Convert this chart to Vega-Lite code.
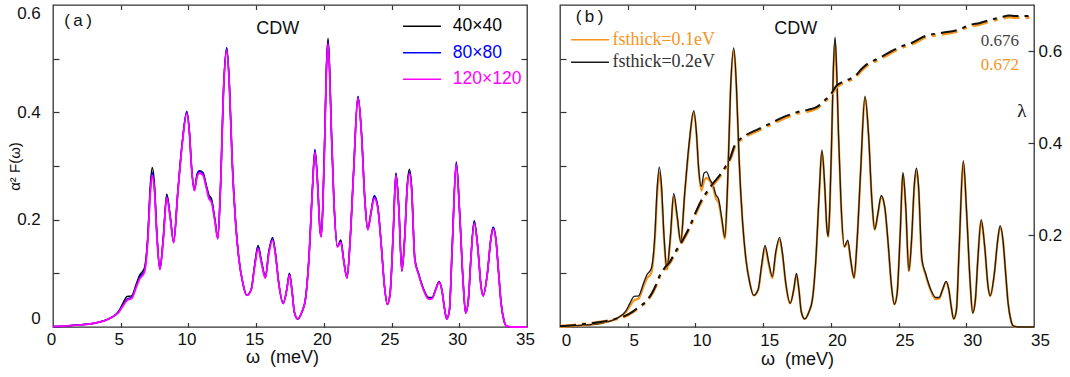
{
"$schema": "https://vega.github.io/schema/vega-lite/v6.json",
"padding": {"left": 6, "top": 3, "right": 0, "bottom": 0},
"spacing": 17,
"resolve": {"scale": {"color": "independent"}, "legend": {"color": "independent"}},
"config": {
  "view": {"stroke": "#333", "strokeWidth": 1.3},
  "font": "Liberation Sans",
  "axis": {"grid": false, "domain": false, "tickColor": "#333", "tickWidth": 1.2, "labelFont": "Liberation Sans", "labelFontSize": 17, "labelColor": "#111", "titleFont": "Liberation Sans", "titleFontWeight": "normal", "titleColor": "#111", "labelFlush": false, "labelOverlap": false}
},
"datasets": {
"a2f": [
{"w":0,"a":0.001,"b":0.001,"c":0.001},{"w":1,"a":0.002,"b":0.002,"c":0.002},{"w":2.04,"a":0.004,"b":0.004,"c":0.004},{"w":3.05,"a":0.007,"b":0.007,"c":0.007},{"w":3.82,"a":0.012,"b":0.012,"c":0.012},{"w":4.33,"a":0.018,"b":0.018,"c":0.018},{"w":4.84,"a":0.029,"b":0.028,"c":0.027},{"w":5.14,"a":0.043,"b":0.04,"c":0.038},{"w":5.47,"a":0.057,"b":0.052,"c":0.05},{"w":5.8,"a":0.058,"b":0.055,"c":0.053},{"w":6.16,"a":0.081,"b":0.077,"c":0.075},{"w":6.41,"a":0.097,"b":0.093,"c":0.09},{"w":6.74,"a":0.109,"b":0.104,"c":0.101},{"w":7.0,"a":0.17,"b":0.165,"c":0.161},{"w":7.18,"a":0.262,"b":0.252,"c":0.248},{"w":7.33,"a":0.297,"b":0.288,"c":0.283},{"w":7.48,"a":0.27,"b":0.262,"c":0.258},{"w":7.69,"a":0.166,"b":0.163,"c":0.161},{"w":7.89,"a":0.109,"b":0.108,"c":0.107},{"w":8.14,"a":0.166,"b":0.163,"c":0.161},{"w":8.4,"a":0.248,"b":0.244,"c":0.241},{"w":8.65,"a":0.208,"b":0.206,"c":0.204},{"w":8.91,"a":0.159,"b":0.158,"c":0.157},{"w":9.21,"a":0.25,"b":0.25,"c":0.248},{"w":9.54,"a":0.342,"b":0.343,"c":0.34},{"w":9.88,"a":0.4,"b":0.402,"c":0.398},{"w":10.08,"a":0.36,"b":0.361,"c":0.359},{"w":10.23,"a":0.298,"b":0.298,"c":0.297},{"w":10.44,"a":0.257,"b":0.255,"c":0.254},{"w":10.64,"a":0.285,"b":0.283,"c":0.28},{"w":10.82,"a":0.291,"b":0.29,"c":0.287},{"w":11.07,"a":0.288,"b":0.286,"c":0.283},{"w":11.33,"a":0.263,"b":0.261,"c":0.258},{"w":11.5,"a":0.247,"b":0.243,"c":0.24},{"w":11.71,"a":0.238,"b":0.235,"c":0.232},{"w":11.96,"a":0.2,"b":0.198,"c":0.196},{"w":12.17,"a":0.167,"b":0.165,"c":0.164},{"w":12.37,"a":0.262,"b":0.261,"c":0.26},{"w":12.6,"a":0.447,"b":0.448,"c":0.445},{"w":12.83,"a":0.519,"b":0.521,"c":0.516},{"w":13.03,"a":0.447,"b":0.448,"c":0.445},{"w":13.23,"a":0.31,"b":0.31,"c":0.309},{"w":13.49,"a":0.193,"b":0.193,"c":0.192},{"w":13.74,"a":0.124,"b":0.124,"c":0.124},{"w":14.0,"a":0.084,"b":0.084,"c":0.084},{"w":14.3,"a":0.059,"b":0.059,"c":0.059},{"w":14.63,"a":0.07,"b":0.069,"c":0.069},{"w":14.89,"a":0.116,"b":0.114,"c":0.112},{"w":15.14,"a":0.152,"b":0.149,"c":0.146},{"w":15.4,"a":0.122,"b":0.12,"c":0.118},{"w":15.68,"a":0.094,"b":0.092,"c":0.091},{"w":15.93,"a":0.14,"b":0.138,"c":0.136},{"w":16.21,"a":0.167,"b":0.165,"c":0.162},{"w":16.42,"a":0.139,"b":0.137,"c":0.136},{"w":16.67,"a":0.082,"b":0.081,"c":0.081},{"w":17.0,"a":0.044,"b":0.044,"c":0.044},{"w":17.26,"a":0.07,"b":0.069,"c":0.069},{"w":17.46,"a":0.1,"b":0.099,"c":0.097},{"w":17.64,"a":0.07,"b":0.069,"c":0.069},{"w":17.82,"a":0.028,"b":0.028,"c":0.028},{"w":18.07,"a":0.015,"b":0.015,"c":0.015},{"w":18.38,"a":0.028,"b":0.028,"c":0.028},{"w":18.63,"a":0.05,"b":0.05,"c":0.05},{"w":18.89,"a":0.125,"b":0.125,"c":0.124},{"w":19.14,"a":0.25,"b":0.25,"c":0.248},{"w":19.34,"a":0.329,"b":0.331,"c":0.326},{"w":19.55,"a":0.262,"b":0.262,"c":0.26},{"w":19.7,"a":0.186,"b":0.186,"c":0.185},{"w":19.8,"a":0.169,"b":0.169,"c":0.168},{"w":19.92,"a":0.222,"b":0.221,"c":0.22},{"w":20.06,"a":0.35,"b":0.348,"c":0.346},{"w":20.18,"a":0.478,"b":0.474,"c":0.47},{"w":20.31,"a":0.538,"b":0.533,"c":0.528},{"w":20.43,"a":0.478,"b":0.474,"c":0.47},{"w":20.56,"a":0.363,"b":0.361,"c":0.36},{"w":20.74,"a":0.237,"b":0.236,"c":0.235},{"w":21.0,"a":0.15,"b":0.15,"c":0.149},{"w":21.25,"a":0.162,"b":0.16,"c":0.158},{"w":21.46,"a":0.126,"b":0.125,"c":0.124},{"w":21.71,"a":0.092,"b":0.092,"c":0.091},{"w":21.94,"a":0.162,"b":0.162,"c":0.161},{"w":22.19,"a":0.286,"b":0.287,"c":0.285},{"w":22.52,"a":0.429,"b":0.43,"c":0.426},{"w":22.78,"a":0.36,"b":0.361,"c":0.359},{"w":23.03,"a":0.236,"b":0.236,"c":0.235},{"w":23.24,"a":0.182,"b":0.182,"c":0.181},{"w":23.47,"a":0.211,"b":0.212,"c":0.21},{"w":23.72,"a":0.243,"b":0.245,"c":0.24},{"w":23.98,"a":0.224,"b":0.225,"c":0.222},{"w":24.23,"a":0.156,"b":0.156,"c":0.155},{"w":24.48,"a":0.075,"b":0.075,"c":0.075},{"w":24.69,"a":0.042,"b":0.042,"c":0.042},{"w":24.89,"a":0.062,"b":0.062,"c":0.062},{"w":25.12,"a":0.174,"b":0.175,"c":0.173},{"w":25.32,"a":0.286,"b":0.287,"c":0.283},{"w":25.53,"a":0.224,"b":0.225,"c":0.223},{"w":25.76,"a":0.105,"b":0.105,"c":0.104},{"w":25.96,"a":0.163,"b":0.162,"c":0.161},{"w":26.16,"a":0.265,"b":0.262,"c":0.26},{"w":26.32,"a":0.294,"b":0.289,"c":0.286},{"w":26.47,"a":0.265,"b":0.262,"c":0.26},{"w":26.72,"a":0.127,"b":0.125,"c":0.124},{"w":26.98,"a":0.101,"b":0.1,"c":0.099},{"w":27.36,"a":0.071,"b":0.07,"c":0.069},{"w":27.74,"a":0.055,"b":0.053,"c":0.052},{"w":28.0,"a":0.055,"b":0.054,"c":0.053},{"w":28.25,"a":0.07,"b":0.069,"c":0.069},{"w":28.51,"a":0.085,"b":0.084,"c":0.083},{"w":28.71,"a":0.07,"b":0.069,"c":0.069},{"w":28.89,"a":0.038,"b":0.038,"c":0.038},{"w":29.07,"a":0.015,"b":0.015,"c":0.015},{"w":29.27,"a":0.031,"b":0.031,"c":0.031},{"w":29.47,"a":0.144,"b":0.145,"c":0.143},{"w":29.78,"a":0.305,"b":0.308,"c":0.302},{"w":30.03,"a":0.211,"b":0.212,"c":0.21},{"w":30.29,"a":0.081,"b":0.081,"c":0.081},{"w":30.47,"a":0.026,"b":0.026,"c":0.026},{"w":30.67,"a":0.05,"b":0.05,"c":0.05},{"w":30.85,"a":0.125,"b":0.125,"c":0.124},{"w":31.1,"a":0.198,"b":0.197,"c":0.193},{"w":31.36,"a":0.15,"b":0.15,"c":0.149},{"w":31.61,"a":0.075,"b":0.075,"c":0.075},{"w":31.76,"a":0.058,"b":0.058,"c":0.058},{"w":32.07,"a":0.099,"b":0.099,"c":0.099},{"w":32.32,"a":0.162,"b":0.162,"c":0.161},{"w":32.5,"a":0.186,"b":0.186,"c":0.183},{"w":32.71,"a":0.162,"b":0.162,"c":0.161},{"w":32.91,"a":0.099,"b":0.099,"c":0.099},{"w":33.09,"a":0.044,"b":0.044,"c":0.044},{"w":33.29,"a":0.013,"b":0.013,"c":0.013},{"w":33.47,"a":0.002,"b":0.002,"c":0.002},{"w":33.85,"a":0,"b":0,"c":0},{"w":35,"a":0,"b":0,"c":0}
],
"a2fb": [
{"w":0,"k":0.001,"o":0.001},{"w":1,"k":0.002,"o":0.002},{"w":2.04,"k":0.004,"o":0.004},{"w":3.05,"k":0.007,"o":0.007},{"w":3.82,"k":0.012,"o":0.012},{"w":4.33,"k":0.018,"o":0.018},{"w":4.84,"k":0.029,"o":0.027},{"w":5.14,"k":0.043,"o":0.038},{"w":5.47,"k":0.057,"o":0.05},{"w":5.8,"k":0.058,"o":0.053},{"w":6.16,"k":0.081,"o":0.075},{"w":6.41,"k":0.097,"o":0.09},{"w":6.74,"k":0.109,"o":0.101},{"w":7.0,"k":0.17,"o":0.161},{"w":7.18,"k":0.262,"o":0.248},{"w":7.33,"k":0.298,"o":0.288},{"w":7.48,"k":0.27,"o":0.258},{"w":7.69,"k":0.166,"o":0.161},{"w":7.89,"k":0.109,"o":0.107},{"w":8.14,"k":0.166,"o":0.161},{"w":8.4,"k":0.249,"o":0.243},{"w":8.65,"k":0.208,"o":0.204},{"w":8.91,"k":0.159,"o":0.157},{"w":9.21,"k":0.25,"o":0.248},{"w":9.54,"k":0.344,"o":0.34},{"w":9.88,"k":0.403,"o":0.4},{"w":10.08,"k":0.36,"o":0.359},{"w":10.23,"k":0.298,"o":0.297},{"w":10.44,"k":0.262,"o":0.254},{"w":10.64,"k":0.287,"o":0.272},{"w":10.82,"k":0.289,"o":0.278},{"w":11.07,"k":0.275,"o":0.272},{"w":11.33,"k":0.263,"o":0.258},{"w":11.5,"k":0.247,"o":0.24},{"w":11.71,"k":0.238,"o":0.232},{"w":11.96,"k":0.2,"o":0.196},{"w":12.17,"k":0.167,"o":0.164},{"w":12.37,"k":0.262,"o":0.26},{"w":12.6,"k":0.447,"o":0.445},{"w":12.83,"k":0.52,"o":0.516},{"w":13.03,"k":0.447,"o":0.445},{"w":13.23,"k":0.31,"o":0.309},{"w":13.49,"k":0.193,"o":0.192},{"w":13.74,"k":0.124,"o":0.124},{"w":14.0,"k":0.084,"o":0.084},{"w":14.3,"k":0.059,"o":0.059},{"w":14.63,"k":0.07,"o":0.069},{"w":14.89,"k":0.116,"o":0.112},{"w":15.14,"k":0.152,"o":0.148},{"w":15.4,"k":0.122,"o":0.118},{"w":15.68,"k":0.094,"o":0.091},{"w":15.93,"k":0.14,"o":0.136},{"w":16.21,"k":0.167,"o":0.163},{"w":16.42,"k":0.139,"o":0.136},{"w":16.67,"k":0.082,"o":0.081},{"w":17.0,"k":0.044,"o":0.044},{"w":17.26,"k":0.07,"o":0.069},{"w":17.46,"k":0.1,"o":0.097},{"w":17.64,"k":0.07,"o":0.069},{"w":17.82,"k":0.028,"o":0.028},{"w":18.07,"k":0.015,"o":0.015},{"w":18.38,"k":0.028,"o":0.028},{"w":18.63,"k":0.05,"o":0.05},{"w":18.89,"k":0.125,"o":0.124},{"w":19.14,"k":0.25,"o":0.248},{"w":19.34,"k":0.33,"o":0.326},{"w":19.55,"k":0.262,"o":0.26},{"w":19.7,"k":0.186,"o":0.185},{"w":19.8,"k":0.169,"o":0.168},{"w":19.92,"k":0.222,"o":0.22},{"w":20.06,"k":0.35,"o":0.346},{"w":20.18,"k":0.478,"o":0.472},{"w":20.31,"k":0.54,"o":0.534},{"w":20.43,"k":0.478,"o":0.472},{"w":20.56,"k":0.363,"o":0.36},{"w":20.74,"k":0.237,"o":0.235},{"w":21.0,"k":0.15,"o":0.149},{"w":21.25,"k":0.162,"o":0.158},{"w":21.46,"k":0.126,"o":0.124},{"w":21.71,"k":0.092,"o":0.091},{"w":21.94,"k":0.162,"o":0.161},{"w":22.19,"k":0.286,"o":0.285},{"w":22.52,"k":0.43,"o":0.427},{"w":22.78,"k":0.36,"o":0.359},{"w":23.03,"k":0.236,"o":0.235},{"w":23.24,"k":0.182,"o":0.181},{"w":23.47,"k":0.211,"o":0.21},{"w":23.72,"k":0.245,"o":0.242},{"w":23.98,"k":0.224,"o":0.222},{"w":24.23,"k":0.156,"o":0.155},{"w":24.48,"k":0.075,"o":0.075},{"w":24.69,"k":0.042,"o":0.042},{"w":24.89,"k":0.062,"o":0.062},{"w":25.12,"k":0.174,"o":0.173},{"w":25.32,"k":0.288,"o":0.285},{"w":25.53,"k":0.224,"o":0.223},{"w":25.76,"k":0.105,"o":0.104},{"w":25.96,"k":0.163,"o":0.161},{"w":26.16,"k":0.265,"o":0.26},{"w":26.32,"k":0.296,"o":0.292},{"w":26.47,"k":0.265,"o":0.26},{"w":26.72,"k":0.127,"o":0.124},{"w":26.98,"k":0.101,"o":0.099},{"w":27.36,"k":0.071,"o":0.069},{"w":27.74,"k":0.055,"o":0.052},{"w":28.0,"k":0.055,"o":0.053},{"w":28.25,"k":0.07,"o":0.069},{"w":28.51,"k":0.085,"o":0.083},{"w":28.71,"k":0.07,"o":0.069},{"w":28.89,"k":0.038,"o":0.038},{"w":29.07,"k":0.015,"o":0.015},{"w":29.27,"k":0.031,"o":0.031},{"w":29.47,"k":0.144,"o":0.143},{"w":29.78,"k":0.31,"o":0.306},{"w":30.03,"k":0.211,"o":0.21},{"w":30.29,"k":0.081,"o":0.081},{"w":30.47,"k":0.026,"o":0.026},{"w":30.67,"k":0.05,"o":0.05},{"w":30.85,"k":0.125,"o":0.124},{"w":31.1,"k":0.2,"o":0.197},{"w":31.36,"k":0.15,"o":0.149},{"w":31.61,"k":0.075,"o":0.075},{"w":31.76,"k":0.058,"o":0.058},{"w":32.07,"k":0.099,"o":0.099},{"w":32.32,"k":0.162,"o":0.161},{"w":32.5,"k":0.189,"o":0.186},{"w":32.71,"k":0.162,"o":0.161},{"w":32.91,"k":0.099,"o":0.099},{"w":33.09,"k":0.044,"o":0.044},{"w":33.29,"k":0.013,"o":0.013},{"w":33.47,"k":0.002,"o":0.002},{"w":33.85,"k":0,"o":0},{"w":35,"k":0,"o":0}
],
"lam": [
{"w":0,"lk":0.002,"lo":0.002},{"w":1,"lk":0.004,"lo":0.004},{"w":2,"lk":0.007,"lo":0.007},{"w":3,"lk":0.011,"lo":0.011},{"w":4,"lk":0.017,"lo":0.016},{"w":4.6,"lk":0.022,"lo":0.021},{"w":5.0,"lk":0.027,"lo":0.026},{"w":5.4,"lk":0.034,"lo":0.033},{"w":5.8,"lk":0.043,"lo":0.042},{"w":6.4,"lk":0.057,"lo":0.056},{"w":6.8,"lk":0.074,"lo":0.073},{"w":7.1,"lk":0.092,"lo":0.09},{"w":7.4,"lk":0.114,"lo":0.112},{"w":7.8,"lk":0.131,"lo":0.129},{"w":8.1,"lk":0.141,"lo":0.139},{"w":8.5,"lk":0.162,"lo":0.16},{"w":9.0,"lk":0.186,"lo":0.184},{"w":9.5,"lk":0.213,"lo":0.211},{"w":10.0,"lk":0.248,"lo":0.245},{"w":10.4,"lk":0.273,"lo":0.27},{"w":10.8,"lk":0.292,"lo":0.289},{"w":11.3,"lk":0.312,"lo":0.309},{"w":11.8,"lk":0.33,"lo":0.327},{"w":12.1,"lk":0.343,"lo":0.34},{"w":12.6,"lk":0.37,"lo":0.367},{"w":12.9,"lk":0.395,"lo":0.392},{"w":13.2,"lk":0.406,"lo":0.403},{"w":13.6,"lk":0.415,"lo":0.412},{"w":14.4,"lk":0.427,"lo":0.424},{"w":15.0,"lk":0.435,"lo":0.432},{"w":15.7,"lk":0.445,"lo":0.442},{"w":16.4,"lk":0.455,"lo":0.452},{"w":17.0,"lk":0.462,"lo":0.459},{"w":17.6,"lk":0.468,"lo":0.465},{"w":18.3,"lk":0.472,"lo":0.469},{"w":19.0,"lk":0.479,"lo":0.476},{"w":19.5,"lk":0.492,"lo":0.489},{"w":20.0,"lk":0.506,"lo":0.503},{"w":20.4,"lk":0.524,"lo":0.521},{"w":20.8,"lk":0.532,"lo":0.529},{"w":21.3,"lk":0.538,"lo":0.535},{"w":21.8,"lk":0.546,"lo":0.543},{"w":22.3,"lk":0.562,"lo":0.559},{"w":22.7,"lk":0.572,"lo":0.569},{"w":23.3,"lk":0.581,"lo":0.578},{"w":23.9,"lk":0.59,"lo":0.587},{"w":24.7,"lk":0.603,"lo":0.6},{"w":25.3,"lk":0.611,"lo":0.608},{"w":26.0,"lk":0.618,"lo":0.615},{"w":27.0,"lk":0.633,"lo":0.63},{"w":28.1,"lk":0.639,"lo":0.636},{"w":29.5,"lk":0.647,"lo":0.644},{"w":30.2,"lk":0.656,"lo":0.653},{"w":31.0,"lk":0.661,"lo":0.658},{"w":31.8,"lk":0.668,"lo":0.665},{"w":32.5,"lk":0.673,"lo":0.67},{"w":33.2,"lk":0.677,"lo":0.674},{"w":33.6,"lk":0.676,"lo":0.673},{"w":35,"lk":0.676,"lo":0.673}
]
},
"hconcat": [
{
  "width": 474, "height": 322,
  "data": {"name": "a2f"},
  "layer": [
    {"mark": {"type": "line", "interpolate": "monotone", "strokeWidth": 1.5},
     "encoding": {
       "x": {"field": "w", "type": "quantitative", "scale": {"domain": [0, 35], "nice": false, "zero": false},
             "axis": {"orient": "bottom", "values": [0,5,10,15,20,25,30,35], "ticks": false, "labelPadding": 4, "labelBaseline": "top", "labelOffset": -2,
                      "title": "ω\u00a0\u00a0(meV)", "titleFontSize": 18, "titleX": 229, "titleY": 35, "titleBaseline": "alphabetic", "titleAlign": "center"}},
       "y": {"field": "a", "type": "quantitative", "scale": {"domain": [0, 0.6], "nice": false},
             "axis": {"orient": "left", "values": [0, 0.2, 0.4, 0.6], "format": ".1~f", "ticks": false, "labelPadding": 12.7, "labelFlush": true,
                      "title": "α² F(ω)", "titleFontSize": 15, "titleAngle": -90, "titleX": -39, "titleY": 161, "titleBaseline": "middle", "titleAlign": "center"}},
       "color": {"datum": "40×40", "type": "nominal",
                 "scale": {"domain": ["40×40", "80×80", "120×120"], "range": ["#000000", "#0000ff", "#ff00ff"]},
                 "legend": {"orient": "none", "legendX": 355, "legendY": 7.2, "title": null, "symbolType": "M-1.46,0H1.46", "symbolSize": 676, "symbolStrokeWidth": 1.5,
                            "labelFont": "Liberation Sans", "labelFontSize": 17.5, "labelOffset": 16.8, "rowPadding": 3.5, "padding": 0,
                            "labelColor": {"expr": "datum.label == '40×40' ? '#000000' : datum.label == '80×80' ? '#0000ff' : '#ff00ff'"}}}
     }},
    {"mark": {"type": "line", "interpolate": "monotone", "strokeWidth": 1.5},
     "encoding": {
       "x": {"field": "w", "type": "quantitative", "scale": {"domain": [0, 35], "nice": false, "zero": false},
             "axis": {"orient": "bottom", "values": [5,10,15,20,25,30], "labels": false, "tickSize": -4.5, "title": null}},
       "y": {"field": "b", "type": "quantitative", "scale": {"domain": [0, 0.6], "nice": false},
             "axis": {"orient": "left", "values": [0.1,0.2,0.3,0.4,0.5], "labels": false, "tickSize": -6, "title": null}},
       "color": {"datum": "80×80", "type": "nominal"}
     }},
    {"mark": {"type": "line", "interpolate": "monotone", "strokeWidth": 1.8},
     "encoding": {
       "x": {"field": "w", "type": "quantitative", "scale": {"domain": [0, 35], "nice": false, "zero": false},
             "axis": {"orient": "top", "values": [5,10,15,20,25,30], "labels": false, "tickSize": -4.5, "title": null}},
       "y": {"field": "c", "type": "quantitative", "scale": {"domain": [0, 0.6], "nice": false},
             "axis": {"orient": "right", "values": [0.1,0.2,0.3,0.4,0.5], "labels": false, "tickSize": -6, "title": null}},
       "color": {"datum": "120×120", "type": "nominal"}
     }},
    {"data": {"values": [{}]},
     "mark": {"type": "text", "align": "left", "baseline": "middle", "fontSize": 17, "font": "Liberation Sans", "color": "#111"},
     "encoding": {
       "x": {"datum": 0.83, "type": "quantitative", "axis": null},
       "y": {"datum": 0.57, "type": "quantitative", "axis": null},
       "text": {"value": "(\u2009a\u2009)"}
     }},
    {"data": {"values": [{}]},
     "mark": {"type": "text", "align": "center", "baseline": "middle", "fontSize": 18, "font": "Liberation Sans", "color": "#111"},
     "encoding": {
       "x": {"datum": 16.6, "type": "quantitative", "axis": null},
       "y": {"datum": 0.556, "type": "quantitative", "axis": null},
       "text": {"value": "CDW"}
     }}
  ],
  "resolve": {"axis": {"x": "independent", "y": "independent"}}
},
{
  "width": 474, "height": 322,
  "layer": [
    {
      "data": {"name": "a2fb"},
      "layer": [
        {"mark": {"type": "line", "interpolate": "monotone", "strokeWidth": 2.2},
         "encoding": {
           "x": {"field": "w", "type": "quantitative", "scale": {"domain": [0, 35], "nice": false, "zero": false},
                 "axis": {"orient": "bottom", "values": [0,5,10,15,20,25,30,35], "ticks": false, "labelPadding": 5, "labelBaseline": "top", "labelOffset": 6,
                          "title": "ω\u00a0\u00a0(meV)", "titleFontSize": 18, "titleX": 237, "titleY": 37, "titleBaseline": "alphabetic", "titleAlign": "center"}},
           "y": {"field": "o", "type": "quantitative", "scale": {"domain": [0, 0.6], "nice": false},
                 "axis": {"orient": "left", "values": [0.1,0.2,0.3,0.4,0.5], "labels": false, "tickSize": -6, "title": null}},
           "color": {"datum": "fsthick=0.1eV", "type": "nominal",
                     "scale": {"domain": ["fsthick=0.1eV", "fsthick=0.2eV"], "range": ["#f7941d", "#1a1a1a"]},
                     "legend": {"orient": "none", "legendX": 18, "legendY": 22.8, "title": null, "symbolType": "M-1.74,0H1.74", "symbolSize": 475, "symbolStrokeWidth": 1.5,
                                "labelFont": "Liberation Serif", "labelFontSize": 18, "labelOffset": 10.4, "rowPadding": 1.5, "padding": 0,
                                "labelColor": {"expr": "datum.label == 'fsthick=0.1eV' ? '#f7941d' : '#333333'"}}}
         }},
        {"mark": {"type": "line", "interpolate": "monotone", "strokeWidth": 1.3},
         "encoding": {
           "x": {"field": "w", "type": "quantitative", "scale": {"domain": [0, 35], "nice": false, "zero": false},
                 "axis": {"orient": "bottom", "values": [5,10,15,20,25,30], "labels": false, "tickSize": -4.5, "title": null}},
           "y": {"field": "k", "type": "quantitative", "scale": {"domain": [0, 0.6], "nice": false}, "axis": null},
           "color": {"datum": "fsthick=0.2eV", "type": "nominal"}
         }},
        {"data": {"values": [{}]},
         "mark": {"type": "text", "align": "left", "baseline": "middle", "fontSize": 17, "font": "Liberation Sans", "color": "#111"},
         "encoding": {
           "x": {"datum": 1.16, "type": "quantitative", "axis": null},
           "y": {"datum": 0.577, "type": "quantitative", "axis": null},
           "text": {"value": "(\u2009b\u2009)"}
         }},
        {"data": {"values": [{}]},
         "mark": {"type": "text", "align": "center", "baseline": "middle", "fontSize": 18, "font": "Liberation Sans", "color": "#111"},
         "encoding": {
           "x": {"datum": 17.4, "type": "quantitative", "axis": null},
           "y": {"datum": 0.556, "type": "quantitative", "axis": null},
           "text": {"value": "CDW"}
         }}
      ],
      "resolve": {"axis": {"x": "independent", "y": "independent"}}
    },
    {
      "data": {"name": "lam"},
      "layer": [
        {"mark": {"type": "line", "interpolate": "monotone", "strokeWidth": 3, "color": "#f7941d", "strokeDash": [16, 6, 4, 6]},
         "encoding": {
           "x": {"field": "w", "type": "quantitative", "scale": {"domain": [0, 35], "nice": false, "zero": false},
                 "axis": {"orient": "top", "values": [5,10,15,20,25,30], "labels": false, "tickSize": -4.5, "title": null}},
           "y": {"field": "lo", "type": "quantitative", "scale": {"domain": [0, 0.7], "nice": false},
                 "axis": {"orient": "right", "values": [0.2, 0.4, 0.6], "format": ".1f", "ticks": false, "labelPadding": 4,
                          "title": "λ", "titleFont": "Liberation Serif", "titleFontSize": 19, "titleAngle": 0, "titleX": -12.7, "titleY": 105, "titleBaseline": "middle", "titleAlign": "center"}}
         }},
        {"mark": {"type": "line", "interpolate": "monotone", "strokeWidth": 2, "color": "#111111", "strokeDash": [16, 6, 4, 6]},
         "encoding": {
           "x": {"field": "w", "type": "quantitative", "scale": {"domain": [0, 35], "nice": false, "zero": false}, "axis": null},
           "y": {"field": "lk", "type": "quantitative", "scale": {"domain": [0, 0.7], "nice": false},
                 "axis": {"orient": "right", "values": [0.2, 0.4, 0.6], "labels": false, "tickSize": -6, "title": null}}
         }},
        {"data": {"values": [{}]},
         "mark": {"type": "text", "align": "right", "baseline": "middle", "fontSize": 17, "font": "Liberation Serif", "color": "#444444"},
         "encoding": {
           "x": {"datum": 33.9, "type": "quantitative", "axis": null},
           "y": {"datum": 0.621, "type": "quantitative", "axis": null},
           "text": {"value": "0.676"}
         }},
        {"data": {"values": [{}]},
         "mark": {"type": "text", "align": "right", "baseline": "middle", "fontSize": 17, "font": "Liberation Serif", "color": "#f7941d"},
         "encoding": {
           "x": {"datum": 33.9, "type": "quantitative", "axis": null},
           "y": {"datum": 0.57, "type": "quantitative", "axis": null},
           "text": {"value": "0.672"}
         }}
      ],
      "resolve": {"axis": {"x": "independent", "y": "independent"}}
    }
  ],
  "resolve": {"scale": {"y": "independent"}, "axis": {"x": "independent", "y": "independent"}}
}
]
}
